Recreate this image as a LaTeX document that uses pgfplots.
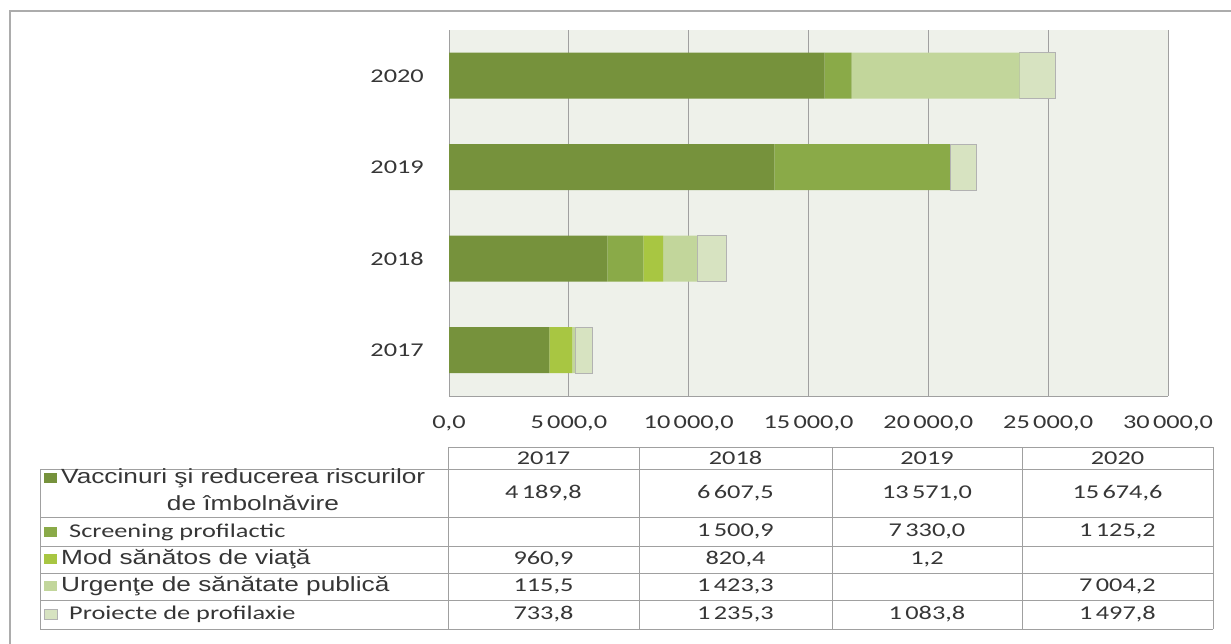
\documentclass[border=0pt]{standalone}
\usepackage{fontspec}
\setmainfont{Carlito}[FakeStretch=1.35]
\newfontfamily\arialf{Liberation Sans}[FakeStretch=1.28]
\usepackage{pgfplots}
\pgfplotsset{compat=1.18}
\definecolor{cA}{HTML}{76923C}
\definecolor{cB}{HTML}{8AAA48}
\definecolor{cC}{HTML}{A8C642}
\definecolor{cD}{HTML}{C2D69B}
\definecolor{cE}{HTML}{D7E3C1}
\definecolor{bgc}{HTML}{EEF1EA}
\definecolor{txt}{HTML}{363636}
\definecolor{lin}{HTML}{A0A0A0}
\newcommand{\cf}{\fontsize{19.5}{22}\selectfont}
\newcommand{\af}{\arialf\fontsize{20.5}{23}\selectfont}
\begin{document}
\begin{tikzpicture}[x=1pt,y=1pt]
\path[use as bounding box] (0,0) rectangle (1231,643);
\begin{axis}[
  at={(449pt,247pt)}, anchor=south west,
  scale only axis, width=719pt, height=366pt,
  xbar stacked, bar width=46pt,
  xmin=0, xmax=30000, ymin=-0.5, ymax=3.5,
  xtick={0,5000,10000,15000,20000,25000,30000},
  scaled x ticks=false,
  ytick={0,1,2,3}, yticklabels={2017,2018,2019,2020},
  xmajorgrids, grid style={lin, line width=0.9pt},
  axis x line*=bottom, axis y line*=left,
  axis line style={lin, line width=0.9pt, -},
  tick style={draw=none},
  axis background/.style={fill=bgc},
  ticklabel style={font=\cf, text=txt},
  xticklabel style={inner sep=0pt, anchor=north, yshift=-20pt,
    /pgf/number format/.cd, fixed, fixed zerofill, precision=1, use comma, 1000 sep={\,}, assume math mode=true},
  yticklabel style={inner sep=0pt, anchor=east, xshift=-25pt},
]
\addplot[fill=cA, draw=none] coordinates {(4189.8,0) (6607.5,1) (13571.0,2) (15674.6,3)};
\addplot[fill=cB, draw=none] coordinates {(0,0) (1500.9,1) (7330.0,2) (1125.2,3)};
\addplot[fill=cC, draw=none] coordinates {(960.9,0) (820.4,1) (1.2,2) (0,3)};
\addplot[fill=cD, draw=none] coordinates {(115.5,0) (1423.3,1) (0,2) (7004.2,3)};
\addplot[fill=cE, draw=gray!60, line width=0.8pt] coordinates {(733.8,0) (1235.3,1) (1083.8,2) (1497.8,3)};
\end{axis}
\begin{scope}[shift={(0,643)}, yscale=-1]
% outer frame
\draw[gray!65, line width=1.6pt] (10,660) -- (10,11) -- (1240,11);
% table lines
\draw[lin, line width=0.9pt] (448,447) -- (1213,447);
\foreach \yy in {469,517,546,573,600,629} \draw[lin, line width=0.9pt] (40,\yy) -- (1213,\yy);
\foreach \xx in {448,639,832,1022,1213} \draw[lin, line width=0.9pt] (\xx,447) -- (\xx,629);
\draw[lin, line width=0.9pt] (40,469) -- (40,629);
% header
\foreach \xx/\t in {543.5/2017,735.5/2018,927/2019,1117.5/2020}
  \node[font=\cf, text=txt] at (\xx,458) {\t};
% legend keys
\fill[cA] (44,473) rectangle (57,483);
\fill[cB] (44,527) rectangle (57,537);
\fill[cC] (44,554) rectangle (57,564);
\fill[cD] (44,581) rectangle (57,591);
\filldraw[fill=cE, draw=gray!60, line width=0.6pt] (44,609) rectangle (57,619);
% row labels
\node[font=\af, text=txt, anchor=west, inner sep=0pt] at (61,478) {Vaccinuri şi reducerea riscurilor};
\node[font=\af, text=txt, inner sep=0pt] at (253,503) {de îmbolnăvire};
\node[font=\cf, text=txt, anchor=west, inner sep=0pt] at (69,532) {Screening profilactic};
\node[font=\af, text=txt, anchor=west, inner sep=0pt] at (61,559) {Mod sănătos de viaţă};
\node[font=\af, text=txt, anchor=west, inner sep=0pt] at (61,586) {Urgenţe de sănătate publică};
\node[font=\cf, text=txt, anchor=west, inner sep=0pt] at (69,614) {Proiecte de profilaxie};
% values
\foreach \xx/\t in {543.5/{4\,189,8},735.5/{6\,607,5},927/{13\,571,0},1117.5/{15\,674,6}}
  \node[font=\cf, text=txt] at (\xx,493) {\t};
\foreach \xx/\t in {735.5/{1\,500,9},927/{7\,330,0},1117.5/{1\,125,2}}
  \node[font=\cf, text=txt] at (\xx,531.5) {\t};
\foreach \xx/\t in {543.5/{960,9},735.5/{820,4},927/{1,2}}
  \node[font=\cf, text=txt] at (\xx,559.5) {\t};
\foreach \xx/\t in {543.5/{115,5},735.5/{1\,423,3},1117.5/{7\,004,2}}
  \node[font=\cf, text=txt] at (\xx,586.5) {\t};
\foreach \xx/\t in {543.5/{733,8},735.5/{1\,235,3},927/{1\,083,8},1117.5/{1\,497,8}}
  \node[font=\cf, text=txt] at (\xx,614.5) {\t};
\end{scope}
\end{tikzpicture}
\end{document}
